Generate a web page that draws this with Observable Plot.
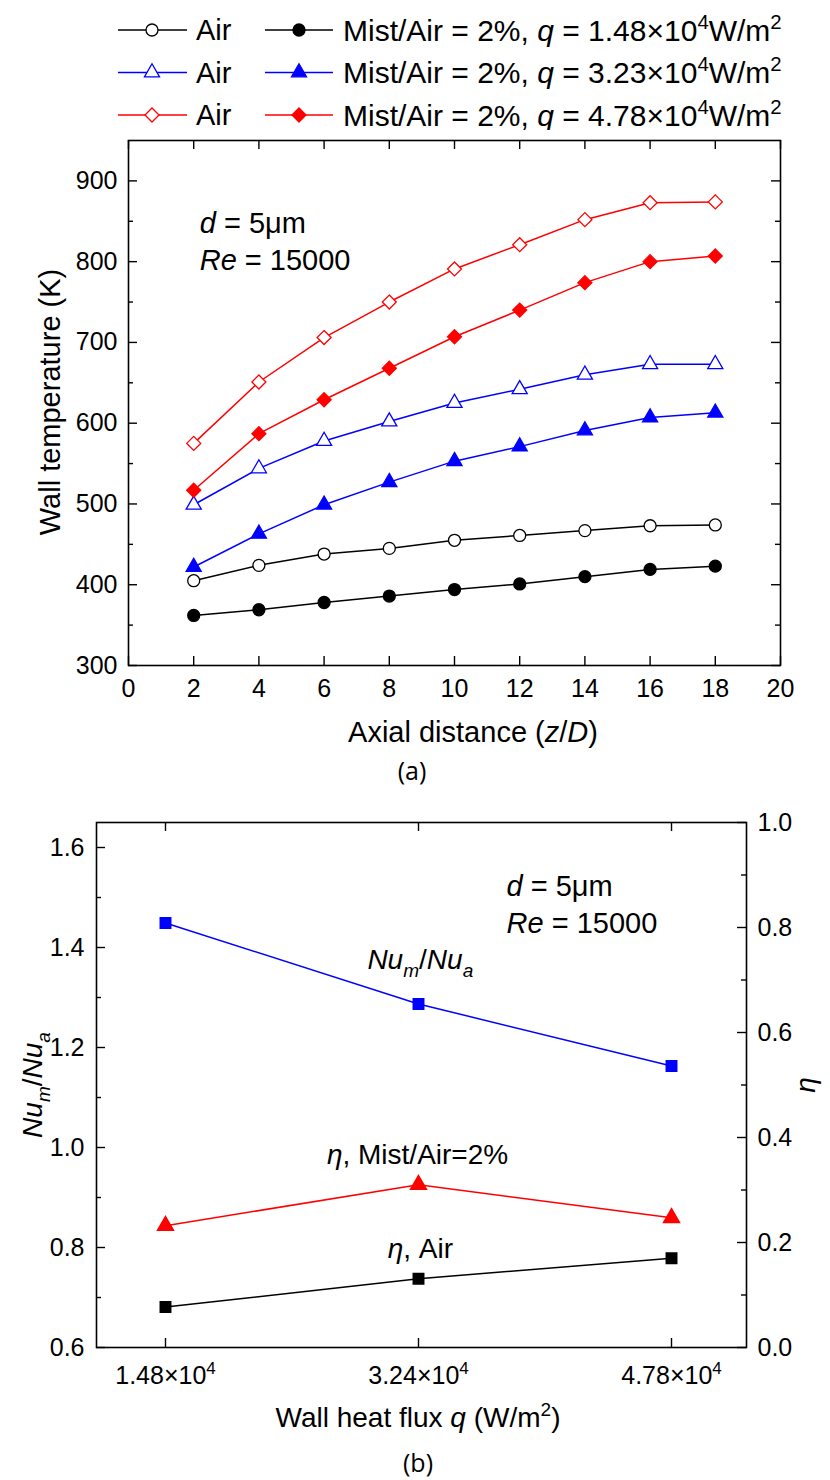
<!DOCTYPE html>
<html>
<head>
<meta charset="utf-8">
<script src="https://cdn.jsdelivr.net/npm/d3@7"></script>
<script src="https://cdn.jsdelivr.net/npm/@observablehq/plot@0.6"></script>
<style>
html,body{margin:0;padding:0;background:#fff;}
#root{width:830px;height:1480px;overflow:hidden;background:#fff;}
#root svg{display:block;}
</style>
</head>
<body>
<div id="root"></div>
<script>
// ---------------- data ----------------
const zOverD   = [2, 4, 6, 8, 10, 12, 14, 16, 18];
const airQ148  = [405, 424, 438, 445, 455, 461, 467, 473, 474];
const mistQ148 = [362, 369, 378, 386, 394, 401, 410, 419, 423];
const airQ323  = [499, 544, 578, 602, 625, 642, 660, 673, 673];
const mistQ323 = [422, 463, 499, 527, 553, 571, 591, 607, 613];
const airQ478  = [575, 651, 706, 750, 791, 821, 852, 873, 874];
const mistQ478 = [517, 587, 629, 668, 707, 740, 774, 800, 807];
const xTicksA  = [0, 2, 4, 6, 8, 10, 12, 14, 16, 18, 20];
const yTicksA  = [300, 400, 500, 600, 700, 800, 900];
const yMinorA  = [350, 450, 550, 650, 750, 850];
const legendQ  = ["1.48", "3.23", "4.78"];

const heatFluxIndex  = [1, 2, 3];
const heatFluxLabels = ["1.48×10⁴", "3.24×10⁴", "4.78×10⁴"];
const nuRatio  = [1.449, 1.287, 1.163];
const etaMist  = [0.232, 0.310, 0.247];
const etaAir   = [0.077, 0.131, 0.170];
const nuTicks  = [0.6, 0.8, 1.0, 1.2, 1.4, 1.6];
const nuMinor  = [0.7, 0.9, 1.1, 1.3, 1.5];
const etaTicks = [0.0, 0.2, 0.4, 0.6, 0.8, 1.0];
const etaMinor = [0.1, 0.3, 0.5, 0.7, 0.9];

// annotation anchors (data units)
const notesA = [{x: 2.2, y: 848}, {x: 2.2, y: 802}];
const notesB = [{x: 2.35, y: 1.522}, {x: 2.35, y: 1.448}];
const curveLabelsB = [{x: 1.80, y: 1.376}, {x: 1.64, y: 0.986}, {x: 1.88, y: 0.798}];

// ---------------- styles ----------------
const FONT = '"Liberation Sans", Arial, Helvetica, sans-serif';
const seriesA = [
  {values: airQ148,  color: "black", symbol: "circle",   r: 6,   open: true},
  {values: mistQ148, color: "black", symbol: "circle",   r: 6,   open: false},
  {values: airQ323,  color: "blue",  symbol: "triangle", r: 5.6, open: true},
  {values: mistQ323, color: "blue",  symbol: "triangle", r: 5.6, open: false},
  {values: airQ478,  color: "red",   symbol: "diamond2", r: 6.3, open: true},
  {values: mistQ478, color: "red",   symbol: "diamond2", r: 6.3, open: false}
];

function rich(parent, parts, {x = 0, y = 0, size = 28, anchor = "start", rotate = 0, family = FONT} = {}) {
  const g = parent.append("g").attr("transform", `translate(${x},${y}) rotate(${rotate})`);
  const t = g.append("text")
    .attr("font-family", family).attr("font-size", size)
    .attr("fill", "black").attr("text-anchor", anchor)
    .attr("y", size * 0.35);
  let shift = 0;
  for (const p of parts) {
    const target = p.sup ? -0.40 * size : p.sub ? 0.30 * size : 0;
    const s = t.append("tspan").text(p.t).attr("dy", target - shift);
    shift = target;
    if (p.sup || p.sub) s.attr("font-size", size * 0.68);
    if (p.i) s.attr("font-style", "italic");
  }
  return t;
}

// inward ticks drawn as short Plot ticks (inset from the far side of the frame)
const MAJ = 9, MIN = 5;
function boxTicks({xMajor = [], yMajor = [], yMinor = [], fw, fh}) {
  const o = {stroke: "black", strokeWidth: 1.4};
  return [
    Plot.tickX(xMajor, {x: d => d, insetTop: fh - MAJ, ...o}),
    Plot.tickX(xMajor, {x: d => d, insetBottom: fh - MAJ, ...o}),
    Plot.tickY(yMajor, {y: d => d, insetRight: fw - MAJ, ...o}),
    Plot.tickY(yMinor, {y: d => d, insetRight: fw - MIN, ...o})
  ];
}

const root = d3.select("#root");

// ---------------- legend ----------------
const legend = root.append("svg").attr("width", 830).attr("height", 130);
const legendRowY = [30, 72.5, 115];
const symMap = {circle: d3.symbolCircle, triangle: d3.symbolTriangle, diamond2: d3.symbolDiamond2};
for (let k = 0; k < 3; k++) {
  const y = legendRowY[k];
  const pair = [seriesA[2 * k], seriesA[2 * k + 1]];
  const cols = [{x1: 118, x2: 187, xm: 152}, {x1: 265, x2: 333, xm: 299}];
  pair.forEach((s, j) => {
    const c = cols[j];
    legend.append("line").attr("x1", c.x1).attr("x2", c.x2).attr("y1", y).attr("y2", y)
      .attr("stroke", s.color).attr("stroke-width", 1.5);
    legend.append("path")
      .attr("d", d3.symbol().type(symMap[s.symbol]).size(Math.PI * s.r * s.r)())
      .attr("transform", `translate(${c.xm},${y})`)
      .attr("fill", s.open ? "white" : s.color).attr("stroke", s.color).attr("stroke-width", 1.3);
  });
  rich(legend, [{t: "Air"}], {x: 196, y, size: 29});
  rich(legend, [
    {t: "Mist/Air = 2%, "}, {t: "q", i: true}, {t: " = " + legendQ[k] + "×10"},
    {t: "4", sup: true}, {t: "W/m"}, {t: "2", sup: true}
  ], {x: 343, y, size: 30});
}

// ---------------- panel (a) ----------------
const A = {w: 830, h: 670, mt: 10, mr: 50, mb: 135, ml: 128};
const fwA = A.w - A.ml - A.mr, fhA = A.h - A.mt - A.mb;
const markA = [];
for (const s of seriesA) {
  markA.push(Plot.line(zOverD, {x: d => d, y: (d, i) => s.values[i], stroke: s.color, strokeWidth: 1.5}));
}
for (const s of seriesA) {
  markA.push(Plot.dot(zOverD, {x: d => d, y: (d, i) => s.values[i], symbol: s.symbol, r: s.r,
    fill: s.open ? "white" : s.color, stroke: s.color, strokeWidth: 1.3}));
}
const plotA = Plot.plot({
  width: A.w, height: A.h,
  marginTop: A.mt, marginRight: A.mr, marginBottom: A.mb, marginLeft: A.ml,
  style: {fontFamily: FONT, fontSize: "25px", color: "black", background: "white", overflow: "visible"},
  x: {domain: [0, 20]},
  y: {domain: [300, 950]},
  marks: [
    Plot.axisX({ticks: xTicksA, tickSize: 0, tickPadding: 14, label: null}),
    Plot.axisY({ticks: yTicksA, tickSize: 0, tickPadding: 11, label: null}),
    ...boxTicks({xMajor: xTicksA, yMajor: yTicksA, yMinor: yMinorA, fw: fwA, fh: fhA}),
    Plot.tickY(yTicksA, {y: d => d, insetLeft: fwA - MAJ, stroke: "black", strokeWidth: 1.4}),
    Plot.tickY(yMinorA, {y: d => d, insetLeft: fwA - MIN, stroke: "black", strokeWidth: 1.4}),
    ...markA,
    Plot.frame({stroke: "black", strokeWidth: 1.6})
  ]
});
root.node().appendChild(plotA);
{
  const svg = d3.select(plotA);
  const sx = plotA.scale("x"), sy = plotA.scale("y");
  rich(svg, [{t: "d", i: true}, {t: " = 5μm"}], {x: sx.apply(notesA[0].x), y: sy.apply(notesA[0].y), size: 29});
  rich(svg, [{t: "Re", i: true}, {t: " = 15000"}], {x: sx.apply(notesA[1].x), y: sy.apply(notesA[1].y), size: 29});
  rich(svg, [{t: "Axial distance ("}, {t: "z", i: true}, {t: "/"}, {t: "D", i: true}, {t: ")"}],
    {x: 473, y: 602, size: 29, anchor: "middle"});
  rich(svg, [{t: "Wall temperature (K)"}], {x: 50, y: 272, size: 29, anchor: "middle", rotate: -90});
  rich(svg, [{t: "(a)"}], {x: 412, y: 641, size: 25, anchor: "middle", family: '"Open Sans", "Noto Sans", sans-serif'});
}

// ---------------- panel (b) ----------------
const B = {w: 830, h: 680, mt: 22, mr: 84, mb: 133, ml: 96};
const fwB = B.w - B.ml - B.mr, fhB = B.h - B.mt - B.mb;
const nuDomain = [0.6, 1.65];
const etaToNu = e => nuDomain[0] + e * (nuDomain[1] - nuDomain[0]);
const nuToEta = v => (v - nuDomain[0]) / (nuDomain[1] - nuDomain[0]);

const plotB = Plot.plot({
  width: B.w, height: B.h,
  marginTop: B.mt, marginRight: B.mr, marginBottom: B.mb, marginLeft: B.ml,
  style: {fontFamily: FONT, fontSize: "25px", color: "black", background: "white", overflow: "visible"},
  x: {domain: [0.7273, 3.2964]},
  y: {domain: nuDomain},
  marks: [
    Plot.axisX({ticks: heatFluxIndex, tickFormat: i => heatFluxLabels[i - 1], tickSize: 0, tickPadding: 19, label: null}),
    Plot.axisY({ticks: nuTicks, tickFormat: d => d.toFixed(1), tickSize: 0, tickPadding: 12, label: null}),
    Plot.axisY({anchor: "right", ticks: etaTicks.map(etaToNu), tickFormat: d => Math.abs(nuToEta(d)).toFixed(1), tickSize: 0, tickPadding: 11, label: null}),
    ...boxTicks({xMajor: heatFluxIndex, yMajor: nuTicks, yMinor: nuMinor, fw: fwB, fh: fhB}),
    Plot.tickY(etaTicks.map(etaToNu), {y: d => d, insetLeft: fwB - MAJ, stroke: "black", strokeWidth: 1.4}),
    Plot.tickY(etaMinor.map(etaToNu), {y: d => d, insetLeft: fwB - MIN, stroke: "black", strokeWidth: 1.4}),
    Plot.line(heatFluxIndex, {x: d => d, y: (d, i) => nuRatio[i], stroke: "blue", strokeWidth: 1.5}),
    Plot.line(heatFluxIndex, {x: d => d, y: (d, i) => etaToNu(etaMist[i]), stroke: "red", strokeWidth: 1.5}),
    Plot.line(heatFluxIndex, {x: d => d, y: (d, i) => etaToNu(etaAir[i]), stroke: "black", strokeWidth: 1.5}),
    Plot.dot(heatFluxIndex, {x: d => d, y: (d, i) => nuRatio[i], symbol: "square", r: 5.9, fill: "blue", stroke: "blue"}),
    Plot.dot(heatFluxIndex, {x: d => d, y: (d, i) => etaToNu(etaMist[i]), symbol: "triangle", r: 5.9, fill: "red", stroke: "red"}),
    Plot.dot(heatFluxIndex, {x: d => d, y: (d, i) => etaToNu(etaAir[i]), symbol: "square", r: 5.9, fill: "black", stroke: "black"}),
    Plot.frame({stroke: "black", strokeWidth: 1.6})
  ]
});
root.node().appendChild(plotB);
{
  const svg = d3.select(plotB);
  // render the exponent of the heat-flux tick labels as a real superscript
  svg.selectAll('g[aria-label="x-axis tick label"] text').each(function () {
    const s = this.textContent;
    if (!s.includes("⁴")) return;
    const el = d3.select(this);
    el.text("");
    el.append("tspan").text(s.replace("⁴", ""));
    el.append("tspan").attr("dy", -10).attr("font-size", 17).text("4");
  });
  const sx = plotB.scale("x"), sy = plotB.scale("y");
  rich(svg, [{t: "d", i: true}, {t: " = 5μm"}], {x: sx.apply(notesB[0].x), y: sy.apply(notesB[0].y), size: 29});
  rich(svg, [{t: "Re", i: true}, {t: " = 15000"}], {x: sx.apply(notesB[1].x), y: sy.apply(notesB[1].y), size: 29});
  rich(svg, [{t: "Nu", i: true}, {t: "m", i: true, sub: true}, {t: "/"}, {t: "Nu", i: true}, {t: "a", i: true, sub: true}],
    {x: sx.apply(curveLabelsB[0].x), y: sy.apply(curveLabelsB[0].y), size: 28});
  rich(svg, [{t: "η", i: true}, {t: ", Mist/Air=2%"}],
    {x: sx.apply(curveLabelsB[1].x), y: sy.apply(curveLabelsB[1].y), size: 28});
  rich(svg, [{t: "η", i: true}, {t: ", Air"}],
    {x: sx.apply(curveLabelsB[2].x), y: sy.apply(curveLabelsB[2].y), size: 28});
  rich(svg, [{t: "Wall heat flux "}, {t: "q", i: true}, {t: " (W/m"}, {t: "2", sup: true}, {t: ")"}],
    {x: 418, y: 617, size: 28, anchor: "middle"});
  rich(svg, [{t: "Nu", i: true}, {t: "m", i: true, sub: true}, {t: "/"}, {t: "Nu", i: true}, {t: "a", i: true, sub: true}],
    {x: 32, y: 285, size: 28, anchor: "middle", rotate: -90});
  rich(svg, [{t: "η", i: true}], {x: 805, y: 285, size: 28, anchor: "middle", rotate: -90});
  rich(svg, [{t: "(b)"}], {x: 418, y: 663, size: 25, anchor: "middle", family: '"Open Sans", "Noto Sans", sans-serif'});
}
</script>
</body>
</html>
